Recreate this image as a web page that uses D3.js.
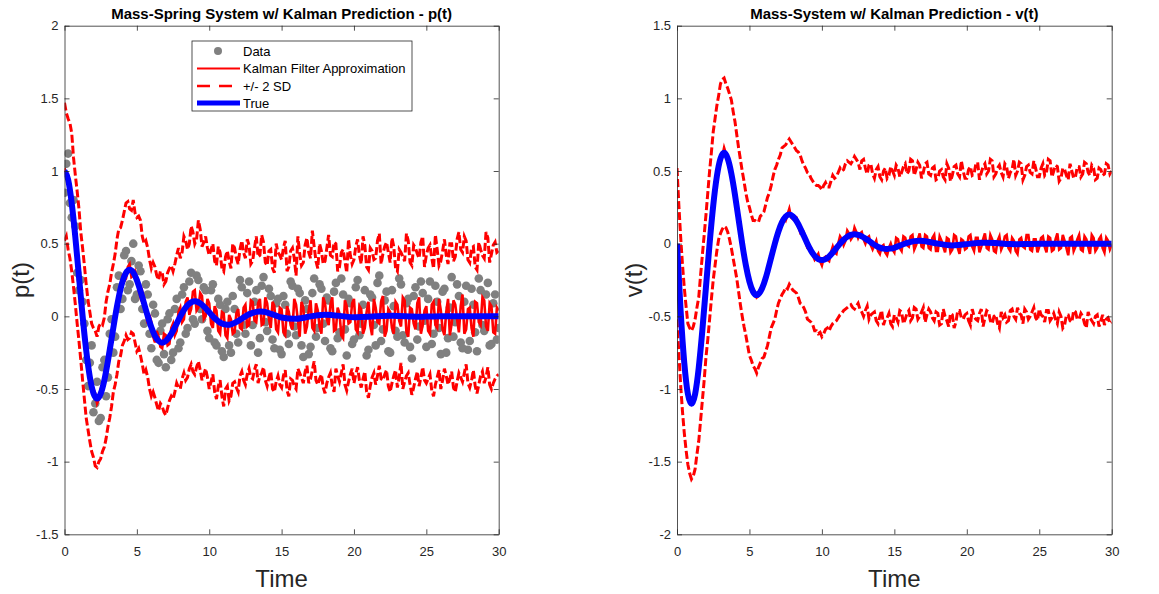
<!DOCTYPE html>
<html>
<head>
<meta charset="utf-8">
<script src="https://cdn.jsdelivr.net/npm/d3@7"></script>
<style>
  body { margin: 0; background: #fff; }
  text { font-family: Arial, "Liberation Sans", Helvetica, sans-serif; }
  .axis path, .axis line { stroke: #262626; stroke-width: 0.8; }
  .axis text { fill: #262626; font-size: 13px; }
</style>
</head>
<body>
<div id="chart"></div>
<script>
(function() {
  var width = 1159,
      height = 594;

  // noisy series are read at t = 0, 0.25, ... 30 (main arrays) and at the
  // half-way points t = 0.125, 0.375, ... 29.875 (the *Mid arrays)
  var tGrid = d3.range(241).map(function(i) { return i * 0.125; });
  // true curve: every 0.25 s up to 15, then every 1 s
  var tTrue = d3.range(61).map(function(i) { return i * 0.25; }).concat(d3.range(16, 31));

  var xTicks = [0, 5, 10, 15, 20, 25, 30];
  var pTicks = [-1.5, -1, -0.5, 0, 0.5, 1, 1.5, 2];
  var vTicks = [-2, -1.5, -1, -0.5, 0, 0.5, 1, 1.5];

  var legendLabels = ['Data', 'Kalman Filter Approximation', '+/- 2 SD', 'True'];

  // ---- position p(t) ----
  var pTrue = [
    1, .941, .777, .543, .273, .003, -.235, -.417, -.529, -.566,
    -.532, -.440, -.307, -.155, -.002, .133, .237, .299, .320, .302,
    .249, .174, .088, .001, -.075, -.134, -.169, -.181, -.170, -.141,
    -.099, -.050, -.001, .043, .076, .096, .103, .097, .080, .056,
    .028, 0, -.024, -.043, -.054, -.058, -.055, -.045, -.032, -.016,
    0, .014, .024, .031, .033, .031, .026, .018, .009, 0,
    -.008,
    -.017, 0, .011, .003, -.006, -.003, .002, .003, -.001, -.002, 0, 0, 0, 0, 0
  ];

  var pKalman = [
    1.02, .92, .80, .52, .30, -.03, -.21, -.45, -.50, -.60,
    -.50, -.47, -.28, -.18, .04, .10, .27, .26, .36, .28,
    .27, .13, .12, -.05, -.04, -.18, -.14, -.22, -.13, -.19,
    -.05, -.10, .06, -.02, .13, .05, .18, .06, .14, .00,
    .09, -.08, .04, -.12, .02, -.15, -.02, -.11, .05, -.09,
    .08, -.06, .10, -.04, .12, -.05, .09, -.08, .07, -.11,
    .05, -.13, .03, -.09, .08, -.14, .06, -.07, .11, -.10,
    .04, -.12, .09, -.06, .13, -.09, .02, -.15, .07, -.04,
    .12, -.11, .05, -.08, .10, -.13, .06, -.05, .14, -.10,
    .03, -.12, .08, -.07, .11, -.14, .05, -.09, .13, -.06,
    .07, -.12, .10, -.08, .04, -.13, .12, -.05, .08, -.11,
    .15, -.09, .06, -.14, .09, -.06, .11, -.10, .07, -.12,
    .04
  ];
  var pKalmanMid = [
    .97, .88, .63, .43, .11, -.13, -.30, -.49, -.53, -.57,
    -.46, -.40, -.25, -.05, .03, .22, .24, .34, .27, .31,
    .18, .17, .02, .01, -.14, -.10, -.21, -.12, -.20, -.08,
    -.13, .03, -.04, .10, .01, .17, .04, .16, -.02, .12,
    -.05, .07, -.10, .03, -.13, .01, -.12, .02, -.08, .06,
    -.07, .11, -.03, .09, -.06, .13, -.02, .10, -.09, .06,
    -.11, .07, -.06, .12, -.03, .10, -.12, .04, -.08, .09,
    -.07, .13, -.02, .08, -.10, .06, -.13, .11, -.05, .09,
    -.09, .07, -.12, .03, -.06, .12, -.04, .10, -.14, .05,
    -.08, .10, -.03, .13, -.11, .06, -.05, .09, -.12, .04,
    -.10, .08, -.06, .12, -.09, .03, -.13, .11, -.02, .07,
    -.12, .05, -.08, .10, -.04, .13, -.07, .09, -.11, .06
  ];

  var pUpper = [
    1.47, 1.36, 1.26, .97, .74, .47, .22, .03, -.08, -.14,
    -.05, -.01, .17, .30, .43, .60, .66, .78, .74, .80,
    .68, .66, .50, .47, .33, .34, .25, .30, .24, .33,
    .31, .42, .40, .55, .46, .62, .50, .66, .48, .55,
    .42, .50, .35, .44, .31, .45, .33, .47, .36, .52,
    .40, .49, .38, .55, .42, .51, .35, .46, .30, .44,
    .39, .52, .34, .47, .28, .43, .37, .54, .40, .48,
    .33, .45, .38, .56, .41, .50, .34, .46, .30, .42,
    .39, .53, .36, .49, .32, .45, .40, .57, .43, .51,
    .37, .48, .31, .44, .38, .52, .35, .47, .40, .55,
    .42, .49, .33, .46, .38, .53, .36, .50, .41, .58,
    .44, .52, .37, .48, .32, .46, .40, .54, .43, .51,
    .45
  ];
  var pUpperMid = [
    1.40, 1.33, 1.09, .86, .58, .35, .11, -.05, -.10, -.07,
    -.06, .10, .22, .36, .53, .61, .72, .79, .73, .71,
    .69, .55, .52, .39, .37, .28, .31, .22, .30, .35,
    .36, .47, .44, .52, .50, .58, .53, .60, .51, .47,
    .46, .38, .48, .33, .41, .38, .50, .40, .46, .44,
    .53, .36, .47, .41, .56, .37, .45, .33, .50, .42,
    .47, .31, .45, .40, .55, .35, .49, .44, .59, .38,
    .50, .36, .47, .42, .51, .31, .44, .38, .53, .36,
    .48, .42, .55, .34, .47, .39, .52, .36, .48, .44,
    .54, .33, .46, .41, .57, .37, .49, .43, .51, .34,
    .47, .40, .56, .35, .45, .42, .50, .38, .53, .46,
    .55, .39, .47, .34, .51, .42, .58, .37, .49, .44
  ];

  var pLower = [
    .52, .46, .31, .08, -.17, -.44, -.70, -.86, -.97, -1.04,
    -.98, -.90, -.76, -.62, -.47, -.31, -.20, -.13, -.15, -.12,
    -.24, -.27, -.40, -.42, -.55, -.56, -.65, -.62, -.68, -.58,
    -.57, -.46, -.50, -.39, -.42, -.33, -.40, -.31, -.44, -.36,
    -.50, -.40, -.57, -.44, -.62, -.48, -.55, -.45, -.52, -.38,
    -.47, -.36, -.43, -.33, -.41, -.35, -.48, -.38, -.52, -.41,
    -.49, -.37, -.55, -.44, -.50, -.39, -.46, -.34, -.43, -.31,
    -.47, -.40, -.53, -.42, -.48, -.36, -.45, -.33, -.51, -.40,
    -.46, -.35, -.49, -.38, -.56, -.42, -.47, -.34, -.44, -.37,
    -.52, -.41, -.49, -.32, -.45, -.39, -.54, -.43, -.48, -.35,
    -.46, -.40, -.55, -.42, -.50, -.36, -.47, -.38, -.52, -.39,
    -.45, -.33, -.49, -.37, -.53, -.41, -.46, -.35, -.50, -.43,
    -.40
  ];
  var pLowerMid = [
    .55, .40, .20, -.05, -.30, -.57, -.78, -.93, -1.03, -1.00,
    -.93, -.84, -.70, -.52, -.40, -.27, -.17, -.16, -.11, -.18,
    -.22, -.33, -.37, -.50, -.52, -.61, -.60, -.66, -.63, -.55,
    -.52, -.49, -.43, -.44, -.36, -.38, -.35, -.37, -.40, -.42,
    -.45, -.52, -.48, -.55, -.50, -.58, -.46, -.49, -.41, -.44,
    -.40, -.42, -.37, -.46, -.39, -.44, -.42, -.50, -.45, -.47,
    -.41, -.51, -.43, -.48, -.36, -.42, -.38, -.46, -.37, -.44,
    -.43, -.49, -.46, -.39, -.52, -.41, -.39, -.47, -.45, -.36,
    -.40, -.44, -.43, -.52, -.48, -.39, -.41, -.43, -.40, -.48,
    -.46, -.37, -.42, -.50, -.41, -.47, -.49, -.38, -.42, -.44,
    -.43, -.51, -.47, -.37, -.44, -.41, -.43, -.49, -.45, -.42,
    -.39, -.46, -.44, -.48, -.47, -.38, -.42, -.47, -.46, -.41
  ];

  var pData = [
    .85, 1.12, .68, .62, .18, .10, -.30, -.32, -.66, -.45,
    -.70, -.30, -.42, -.02, -.14, .28, .12, .45, .22, .50,
    .15, .31, -.05, .15, -.22, .02, -.32, -.05, -.35, .02,
    -.25, .12, -.18, .20, -.08, .30, -.05, .25, -.02, .18,
    -.15, .22, -.20, .08, -.28, .10, -.25, .05, -.18, .20,
    -.12, .24, -.06, .18, -.15, .27, -.10, .14, -.22, .12,
    -.26, .08, -.19, .21, -.13, .16, -.28, .05, -.21, .26,
    -.08, .19, -.17, .11, -.24, .23, -.11, .15, -.27, .09,
    -.16, .25, -.05, .18, -.23, .13, -.20, .28, -.09, .17,
    -.25, .07, -.14, .22, -.18, .12, -.29, .20, -.07, .16,
    -.21, .24, -.12, .10, -.26, .19, -.15, .27, -.04, .14,
    -.22, .21, -.17, .08, -.24, .18, -.10, .23, -.19, .15,
    -.08
  ];
  var pDataMid = [
    1.05, .78, .80, .30, .25, -.05, -.48, -.20, -.60, -.72,
    -.35, -.55, -.12, -.25, .20, .05, .42, .18, .38, .12,
    .35, .05, .22, -.12, .08, -.30, -.10, -.26, -.02, -.30,
    .05, -.22, .15, -.12, .24, -.02, .28, .05, .20, -.10,
    .18, -.18, .12, -.24, .05, -.20, .14, -.12, .25, -.06,
    .16, -.20, .10, -.25, .21, -.04, .19, -.16, .09, -.23,
    .14, -.12, .24, -.07, .19, -.20, .11, -.26, .16, -.14,
    .22, -.05, .13, -.22, .17, -.15, .26, -.09, .12, -.19,
    .20, -.13, .08, -.27, .15, -.06, .23, -.17, .11, -.24,
    .18, -.10, .26, -.13, .09, -.21, .14, -.16, .24, -.03,
    .12, -.19, .21, -.08, .17, -.25, .06, -.14, .22, -.18,
    .10, -.23, .19, -.11, .26, -.06, .15, -.20, .09, -.16
  ];

  // ---- velocity v(t) ----
  var vTrue = [
    0, -.463, -.817, -1.033, -1.102, -1.035, -.854, -.595, -.297, 0,
    .262, .463, .585, .625, .586, .483, .337, .168, 0, -.148,
    -.261, -.331, -.354, -.331, -.274, -.191, -.095, 0, .084, .148,
    .187, .200, .187, .155, .108, .054, 0, -.048, -.084, -.106,
    -.113, -.106, -.088, -.061, -.031, 0, .027, .048, .060, .065,
    .060, .050, .035, .019, 0, -.015, -.027, -.034, -.036, -.033,
    -.028,
    .009, .018, 0, -.012, -.003, .006, .004, -.003, -.003, 0, 0, 0, 0, 0, 0
  ];

  var vKalman = [
    0, -.45, -.80, -1.05, -1.10, -1.02, -.86, -.58, -.31, .02,
    .24, .47, .57, .66, .58, .50, .32, .18, -.02, -.14,
    -.28, -.32, -.37, -.31, -.29, -.17, -.11, .03, .06, .17,
    .16, .24, .17, .18, .08, .08, -.03, -.03, -.11, -.07,
    -.15, -.09, -.12, -.02, -.07, .05, -.01, .09, .03, .11,
    .04, .08, .00, .05, -.04, .02, -.07, -.01, -.08, .00,
    -.06, .03, -.05, .04, -.02, .06, -.01, .07, -.03, .05,
    -.04, .06, -.05, .02, -.06, .03, -.04, .05, -.07, .02,
    -.03, .06, -.05, .04, -.02, .07, -.04, .03, -.06, .05,
    -.01, .06, -.05, .02, -.07, .04, -.03, .06, -.05, .03,
    -.02, .05, -.06, .04, -.04, .07, -.03, .02, -.08, .05,
    -.02, .06, -.05, .03, -.07, .04, -.03, .05, -.06, .02,
    -.01
  ];
  var vKalmanMid = [
    -.22, -.62, -.94, -1.06, -1.08, -.93, -.74, -.43, -.16, .14,
    .35, .54, .60, .62, .52, .42, .24, .09, -.08, -.19,
    -.31, -.33, -.36, -.29, -.25, -.13, -.06, .06, .10, .18,
    .20, .18, .19, .12, .10, .01, -.04, -.08, -.09, -.12,
    -.10, -.11, -.06, -.06, .00, .03, .02, .07, .05, .08,
    .07, .03, .04, -.01, -.01, -.05, -.02, -.06, -.03, -.04,
    .04, -.03, .05, -.01, .05, -.04, .03, -.02, .06, -.03,
    .04, -.05, .05, -.02, .04, -.06, .06, -.03, .03, -.04,
    .05, -.02, .04, -.06, .03, -.03, .06, -.05, .02, -.04,
    .05, -.03, .04, -.05, .03, -.02, .06, -.04, .03, -.06,
    .04, -.02, .05, -.05, .03, -.04, .06, -.03, .04, -.05,
    .03, -.04, .05, -.02, .06, -.05, .03, -.03, .04, -.04
  ];

  var vUpper = [
    .52, .05, -.30, -.55, -.60, -.52, -.37, -.08, .20, .50,
    .77, .95, 1.10, 1.14, 1.07, .99, .84, .66, .50, .35,
    .25, .16, .15, .19, .22, .32, .40, .51, .58, .66,
    .68, .72, .68, .64, .61, .54, .49, .45, .41, .40,
    .37, .42, .39, .47, .46, .52, .51, .57, .55, .60,
    .56, .57, .52, .54, .48, .51, .46, .50, .45, .53,
    .47, .52, .49, .55, .50, .57, .51, .54, .49, .56,
    .47, .53, .45, .51, .44, .52, .47, .54, .46, .50,
    .45, .53, .48, .56, .49, .55, .50, .57, .48, .54,
    .46, .53, .49, .58, .50, .55, .47, .54, .48, .52,
    .46, .55, .49, .57, .50, .53, .45, .51, .44, .50,
    .46, .53, .48, .55, .47, .52, .45, .51, .48, .54,
    .50
  ];
  var vUpperMid = [
    .27, -.14, -.43, -.58, -.57, -.44, -.22, .06, .35, .63,
    .86, 1.02, 1.13, 1.10, 1.03, .91, .75, .58, .43, .29,
    .20, .16, .15, .20, .27, .35, .46, .54, .61, .67,
    .70, .70, .66, .63, .57, .52, .48, .43, .40, .39,
    .40, .39, .43, .45, .49, .50, .55, .56, .57, .58,
    .51, .58, .48, .55, .45, .53, .44, .52, .47, .50,
    .54, .46, .53, .48, .58, .47, .56, .45, .55, .48,
    .52, .44, .50, .46, .55, .43, .53, .48, .57, .45,
    .51, .47, .55, .44, .53, .48, .58, .46, .52, .49,
    .55, .45, .51, .47, .56, .44, .53, .49, .57, .46,
    .52, .47, .58, .46, .54, .43, .52, .47, .55, .45,
    .53, .46, .56, .49, .54, .44, .52, .47, .55, .48
  ];

  var vLower = [
    -.52, -.97, -1.30, -1.52, -1.62, -1.55, -1.36, -1.08, -.78, -.52,
    -.25, -.05, .07, .12, .08, -.03, -.17, -.33, -.50, -.63,
    -.77, -.84, -.89, -.82, -.78, -.70, -.58, -.52, -.41, -.35,
    -.30, -.28, -.32, -.34, -.41, -.44, -.52, -.54, -.60, -.62,
    -.64, -.59, -.60, -.55, -.53, -.49, -.46, -.44, -.42, -.45,
    -.41, -.47, -.46, -.52, -.48, -.53, -.50, -.56, -.51, -.55,
    -.49, -.54, -.47, -.52, -.46, -.51, -.45, -.50, -.44, -.49,
    -.47, -.53, -.48, -.55, -.50, -.57, -.49, -.54, -.46, -.52,
    -.48, -.56, -.50, -.53, -.45, -.51, -.47, -.55, -.49, -.58,
    -.51, -.54, -.46, -.50, -.44, -.49, -.45, -.52, -.47, -.51,
    -.45, -.50, -.46, -.53, -.48, -.55, -.50, -.56, -.49, -.54,
    -.47, -.52, -.50, -.58, -.51, -.55, -.49, -.53, -.56, -.51,
    -.54
  ];
  var vLowerMid = [
    -.75, -1.15, -1.42, -1.58, -1.60, -1.45, -1.22, -.94, -.66, -.38,
    -.15, .03, .10, .11, .03, -.10, -.24, -.42, -.57, -.70,
    -.80, -.86, -.85, -.79, -.74, -.64, -.55, -.46, -.38, -.33,
    -.31, -.30, -.33, -.37, -.42, -.47, -.53, -.56, -.60, -.61,
    -.62, -.58, -.57, -.54, -.51, -.48, -.45, -.43, -.44, -.43,
    -.45, -.50, -.43, -.49, -.47, -.55, -.46, -.52, -.48, -.57,
    -.51, -.46, -.55, -.48, -.53, -.44, -.52, -.47, -.54, -.45,
    -.51, -.47, -.56, -.45, -.53, -.48, -.58, -.46, -.51, -.49,
    -.53, -.45, -.52, -.48, -.57, -.46, -.53, -.50, -.55, -.47,
    -.49, -.53, -.45, -.52, -.48, -.55, -.47, -.50, -.44, -.53,
    -.49, -.54, -.46, -.51, -.52, -.47, -.58, -.49, -.53, -.46,
    -.52, -.48, -.55, -.47, -.53, -.50, -.57, -.49, -.52, -.55
  ];

  var red = '#ff0000', blue = '#0000ff', grey = '#808080';
  var dash = '8,3';

  // put main readings and half-way readings back in time order
  var interleave = function(main, mid) {
    var out = [];
    main.forEach(function(v, i) {
      out.push(v);
      if (i < mid.length) out.push(mid[i]);
    });
    return out;
  };

  var toPoints = function(ts, vals) {
    return ts.map(function(t, i) { return [t, vals[i]]; });
  };

  var svg = d3.select('#chart')
    .append('svg')
    .attr('width', width)
    .attr('height', height);

  var drawPanel = function(cfg) {
    var x = d3.scaleLinear().domain([0, 30]).range([cfg.left, cfg.right]);
    var y = d3.scaleLinear().domain(cfg.yDomain).range([534.3, 25.7]);

    var g = svg.append('g');
    var clipId = 'clip-' + cfg.id;
    g.append('clipPath').attr('id', clipId)
      .append('rect')
      .attr('x', cfg.left).attr('y', 25.7)
      .attr('width', cfg.right - cfg.left).attr('height', 534.3 - 25.7);

    var plot = g.append('g').attr('clip-path', 'url(#' + clipId + ')');

    var line = d3.line()
      .x(function(d) { return x(d[0]); })
      .y(function(d) { return y(d[1]); });

    // data markers
    if (cfg.data) {
      plot.selectAll('circle.data')
        .data(toPoints(tGrid, cfg.data))
        .enter().append('circle')
        .attr('class', 'data')
        .attr('cx', function(d) { return x(d[0]); })
        .attr('cy', function(d) { return y(d[1]); })
        .attr('r', 4.3)
        .attr('fill', grey);
    }

    // Kalman estimate
    plot.append('path')
      .attr('d', line(toPoints(tGrid, cfg.kalman)))
      .attr('fill', 'none')
      .attr('stroke', red)
      .attr('stroke-width', 2.6);

    // +/- 2 SD
    [cfg.upper, cfg.lower].forEach(function(band) {
      plot.append('path')
        .attr('d', line(toPoints(tGrid, band)))
        .attr('fill', 'none')
        .attr('stroke', red)
        .attr('stroke-width', 3)
        .attr('stroke-dasharray', dash);
    });

    // true curve
    plot.append('path')
      .attr('d', line.curve(d3.curveNatural)(toPoints(tTrue, cfg.truth)))
      .attr('fill', 'none')
      .attr('stroke', blue)
      .attr('stroke-width', 6)
      .attr('stroke-linejoin', 'round');

    // axes box with inward ticks
    var fmt = function(d) { return String(d); };
    g.append('g').attr('class', 'axis')
      .attr('transform', 'translate(0,534.3)')
      .call(d3.axisBottom(x).tickValues(xTicks).tickFormat(fmt).tickSizeInner(-5).tickSizeOuter(0).tickPadding(12));
    g.append('g').attr('class', 'axis')
      .attr('transform', 'translate(0,25.7)')
      .call(d3.axisTop(x).tickValues(xTicks).tickFormat('').tickSizeInner(-5).tickSizeOuter(0));
    g.append('g').attr('class', 'axis')
      .attr('transform', 'translate(' + cfg.left + ',0)')
      .call(d3.axisLeft(y).tickValues(cfg.yTicks).tickFormat(fmt).tickSizeInner(-5).tickSizeOuter(0).tickPadding(6));
    g.append('g').attr('class', 'axis')
      .attr('transform', 'translate(' + cfg.right + ',0)')
      .call(d3.axisRight(y).tickValues(cfg.yTicks).tickFormat('').tickSizeInner(-5).tickSizeOuter(0));

    var cx = (cfg.left + cfg.right) / 2;
    g.append('text')
      .attr('x', cx).attr('y', 19)
      .attr('text-anchor', 'middle')
      .attr('font-size', 15).attr('font-weight', 'bold')
      .attr('fill', '#000')
      .text(cfg.title);

    g.append('text')
      .attr('x', cx).attr('y', 586.5)
      .attr('text-anchor', 'middle')
      .attr('font-size', 24)
      .attr('fill', '#262626')
      .text('Time');

    g.append('text')
      .attr('transform', 'translate(' + cfg.ylabelX + ',280) rotate(-90)')
      .attr('text-anchor', 'middle')
      .attr('font-size', 24)
      .attr('fill', '#262626')
      .text(cfg.ylabel);
  };

  drawPanel({
    id: 'p', left: 64.5, right: 498.7, yDomain: [-1.5, 2], yTicks: pTicks,
    title: 'Mass-Spring System w/ Kalman Prediction - p(t)', ylabel: 'p(t)', ylabelX: 29,
    truth: pTrue,
    kalman: interleave(pKalman, pKalmanMid),
    upper: interleave(pUpper, pUpperMid),
    lower: interleave(pLower, pLowerMid),
    data: interleave(pData, pDataMid)
  });

  drawPanel({
    id: 'v', left: 677, right: 1111.7, yDomain: [-2, 1.5], yTicks: vTicks,
    title: 'Mass-System w/ Kalman Prediction - v(t)', ylabel: 'v(t)', ylabelX: 642,
    truth: vTrue,
    kalman: interleave(vKalman, vKalmanMid),
    upper: interleave(vUpper, vUpperMid),
    lower: interleave(vLower, vLowerMid),
    data: null
  });

  // legend on the left panel
  var legend = svg.append('g');
  legend.append('rect')
    .attr('x', 192).attr('y', 41).attr('width', 220).attr('height', 70)
    .attr('fill', '#fff').attr('stroke', '#262626').attr('stroke-width', 0.8);

  var rowY = [51, 68.5, 86, 103];
  legend.append('circle').attr('cx', 218).attr('cy', rowY[0]).attr('r', 4).attr('fill', grey);
  legend.append('line').attr('x1', 197).attr('x2', 240).attr('y1', rowY[1]).attr('y2', rowY[1])
    .attr('stroke', red).attr('stroke-width', 2);
  legend.append('line').attr('x1', 197).attr('x2', 240).attr('y1', rowY[2]).attr('y2', rowY[2])
    .attr('stroke', red).attr('stroke-width', 2.5).attr('stroke-dasharray', '13,9');
  legend.append('line').attr('x1', 197).attr('x2', 240).attr('y1', rowY[3]).attr('y2', rowY[3])
    .attr('stroke', blue).attr('stroke-width', 5);

  legend.selectAll('text.lbl')
    .data(legendLabels)
    .enter().append('text')
    .attr('class', 'lbl')
    .attr('x', 243)
    .attr('y', function(d, i) { return rowY[i] + 4.6; })
    .attr('font-size', 13)
    .attr('fill', '#000')
    .text(function(d) { return d; });
})();
</script>
</body>
</html>
